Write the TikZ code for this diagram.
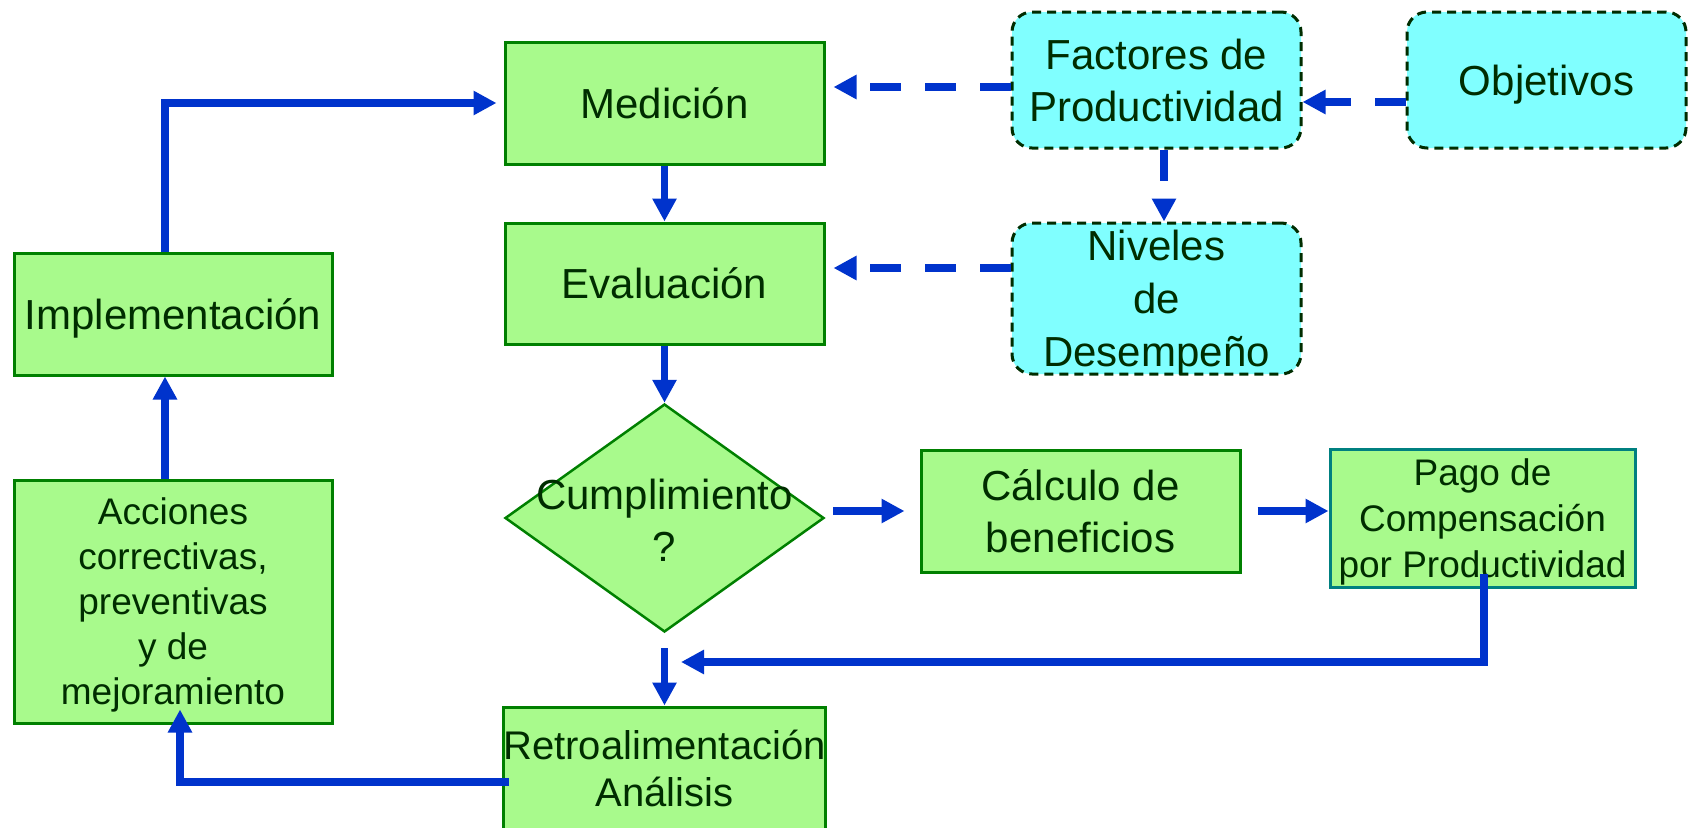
\documentclass[tikz,border=0pt]{standalone}
\usepackage{fontspec}
\setmainfont{Liberation Sans}
\usetikzlibrary{arrows.meta,shapes.geometric,calc}
\definecolor{gfill}{RGB}{168,250,140}
\definecolor{gline}{RGB}{0,128,0}
\definecolor{cfill}{RGB}{128,255,255}
\definecolor{tcol}{RGB}{0,45,0}
\definecolor{ablue}{RGB}{0,51,204}
\definecolor{tealline}{RGB}{0,128,128}
\begin{document}
\begin{tikzpicture}[x=1pt,y=-1pt,
 gbox/.style={draw=gline,line width=3pt,fill=gfill,text=tcol,align=center,inner sep=0pt,font=\fontsize{42}{52}\selectfont},
 cbox/.style={draw=tcol,dash pattern=on 9pt off 6pt,line width=3pt,fill=cfill,rounded corners=20pt,text=tcol,align=center,inner sep=0pt,font=\fontsize{42}{52}\selectfont},
 arr/.style={draw=ablue,line width=7.5pt,-{Triangle[length=23pt,width=23pt]}},
 darr/.style={arr,dash pattern=on 31pt off 24pt},
 nodepth/.style={text depth=0pt},
]
\fill[white] (0,0) rectangle (1688,827);
\useasboundingbox (0,0) rectangle (1688,827);

% green boxes
\node[gbox,minimum width=319pt,minimum height=122pt] (med) at (664.5,103) {Medición};
\node[gbox,minimum width=319pt,minimum height=121pt] (eva) at (664.5,283.5) {Evaluación};
\node[gbox,nodepth,minimum width=318pt,minimum height=122pt] (imp) at (173,314) {Implementación};
\node[gbox,nodepth,minimum width=318pt,minimum height=243pt,font=\fontsize{37}{45}\selectfont] (acc) at (173,601.5) {Acciones\\correctivas,\\preventivas\\y de\\mejoramiento};
\node[diamond,draw=gline,line width=2.5pt,fill=gfill,minimum width=319pt,minimum height=228pt,inner sep=0pt] (dia) at (664.5,518) {};
\node[text=tcol,align=center,font=\fontsize{42}{52}\selectfont] (diat) at (664.5,520) {Cumplimiento\\?};
\node[gbox,minimum width=319pt,minimum height=123pt,font=\fontsize{40}{47}\selectfont] (ret) at (664.5,768.5) {Retroalimentación\\Análisis};
\node[gbox,minimum width=319pt,minimum height=122pt] (cal) at (1080.5,511) {Cálculo de\\beneficios};
\node[gbox,nodepth,draw=tealline,minimum width=305pt,minimum height=138pt,font=\fontsize{37}{46}\selectfont] (pag) at (1482.5,518) {Pago de\\Compensación\\por Productividad};

% cyan boxes
\node[cbox,minimum width=289pt,minimum height=136pt] (fac) at (1156.5,80) {Factores de\\Productividad};
\node[cbox,nodepth,minimum width=279pt,minimum height=136pt] (obj) at (1546.5,80) {Objetivos};
\node[cbox,nodepth,minimum width=289pt,minimum height=151pt,font=\fontsize{42}{53}\selectfont] (niv) at (1156.5,298.5) {Niveles\\de\\Desempeño};

% solid connectors
\draw[arr,shorten >=7pt] ([xshift=-8pt]imp.north) |- (med.west);
\draw[arr] (med.south) -- (eva.north);
\draw[arr] (eva.south) -- (dia.north);
\draw[arr,shorten <=8pt,shorten >=15pt] (dia.east |- cal.west) -- (cal.west);
\draw[arr,shorten <=16pt] (cal.east) -- (cal.east -| pag.west);
\coordinate (join) at (681,662);
\draw[arr] ([xshift=1.5pt,yshift=15pt]pag.south) |- (join);
\draw[arr,shorten <=15pt] (dia.south) -- (ret.north);
\draw[arr] ([xshift=7pt,yshift=-13.5pt]ret.west) -| ([xshift=7pt,yshift=15pt]acc.south);
\draw[arr] ([xshift=-8pt]acc.north) -- ([xshift=-8pt]imp.south);

% dashed connectors
\coordinate (f1) at ([yshift=-7pt]fac.west);
\draw[darr,shorten >=8pt] (f1) -- (f1 -| med.east);
\coordinate (n1) at ([yshift=30.5pt]niv.west);
\draw[darr,shorten >=8pt] (n1) -- (n1 -| eva.east);
\coordinate (o1) at ([yshift=-22pt]obj.west);
\draw[darr] (o1) -- (o1 -| fac.east);
\coordinate (f2) at ([xshift=7.5pt]fac.south);
\draw[arr,dash pattern=on 31pt off 30pt] (f2) -- (f2 |- niv.north);
\end{tikzpicture}
\end{document}
